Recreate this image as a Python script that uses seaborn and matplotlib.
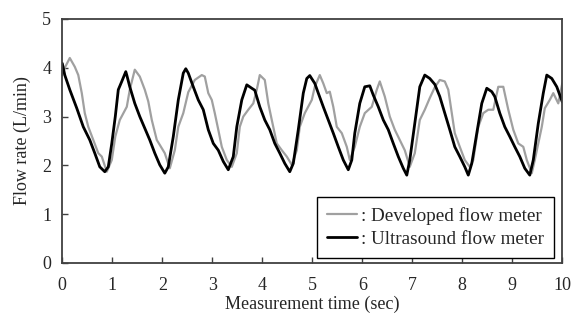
import matplotlib
matplotlib.use("Agg")
import matplotlib.pyplot as plt
import pandas as pd
import seaborn as sns

# values (time in sec, flow in L/min)
ultra_time = [
    0.0, 0.05, 0.15, 0.29, 0.42, 0.55, 0.65, 0.75, 0.85, 0.92, 0.99, 1.06,
    1.12, 1.19, 1.27, 1.29, 1.35, 1.45, 1.55, 1.65, 1.75, 1.85, 1.95, 2.05,
    2.12, 2.22, 2.32, 2.42, 2.47, 2.52, 2.62, 2.72, 2.82, 2.92, 3.02, 3.12,
    3.22, 3.32, 3.42, 3.49, 3.59, 3.69, 3.79, 3.85, 3.95, 4.05, 4.15, 4.25,
    4.35, 4.45, 4.55, 4.62, 4.72, 4.82, 4.89, 4.95, 5.05, 5.12, 5.22, 5.32,
    5.42, 5.52, 5.62, 5.72, 5.79, 5.85, 5.95, 6.05, 6.15, 6.22, 6.32, 6.42,
    6.52, 6.62, 6.72, 6.82, 6.89, 6.95, 7.05, 7.15, 7.25, 7.35, 7.45, 7.55,
    7.65, 7.75, 7.85, 7.95, 8.05, 8.12, 8.19, 8.29, 8.39, 8.49, 8.59, 8.65,
    8.75, 8.85, 8.95, 9.05, 9.15, 9.25, 9.35, 9.42, 9.52, 9.62, 9.69, 9.79,
    9.89, 10.0,
]
ultra_flow = [
    4.09, 3.85, 3.55, 3.17, 2.79, 2.52, 2.25, 1.97, 1.87, 1.97, 2.45, 3.00,
    3.55, 3.72, 3.92, 3.85, 3.61, 3.27, 3.00, 2.76, 2.52, 2.25, 2.01, 1.84,
    1.97, 2.59, 3.34, 3.89, 3.98, 3.89, 3.61, 3.34, 3.14, 2.73, 2.45, 2.31,
    2.08, 1.91, 2.18, 2.79, 3.34, 3.65, 3.58, 3.54, 3.20, 2.93, 2.73, 2.45,
    2.25, 2.04, 1.87, 2.04, 2.73, 3.48, 3.78, 3.84, 3.68, 3.48, 3.20, 2.93,
    2.66, 2.38, 2.11, 1.91, 2.11, 2.66, 3.27, 3.61, 3.63, 3.44, 3.20, 2.93,
    2.73, 2.45, 2.18, 1.94, 1.80, 2.11, 2.86, 3.61, 3.85, 3.78, 3.66, 3.41,
    3.07, 2.73, 2.38, 2.18, 1.97, 1.80, 2.04, 2.66, 3.27, 3.58, 3.51, 3.41,
    3.07, 2.79, 2.59, 2.38, 2.18, 1.94, 1.80, 2.11, 2.86, 3.48, 3.85, 3.78,
    3.61, 3.30,
]

dev_time = [
    0.0, 0.05, 0.15, 0.25, 0.32, 0.39, 0.45, 0.52, 0.62, 0.72, 0.79, 0.89,
    0.99, 1.06, 1.15, 1.29, 1.35, 1.45, 1.55, 1.65, 1.72, 1.79, 1.89, 1.95,
    2.05, 2.15, 2.25, 2.32, 2.42, 2.52, 2.65, 2.79, 2.85, 2.92, 2.99, 3.05,
    3.12, 3.19, 3.29, 3.39, 3.49, 3.55, 3.62, 3.72, 3.82, 3.89, 3.95, 4.05,
    4.12, 4.19, 4.29, 4.39, 4.49, 4.59, 4.69, 4.75, 4.85, 4.99, 5.05, 5.15,
    5.22, 5.29, 5.35, 5.42, 5.49, 5.59, 5.69, 5.75, 5.85, 5.95, 6.05, 6.19,
    6.29, 6.35, 6.45, 6.55, 6.65, 6.75, 6.85, 6.95, 7.05, 7.15, 7.25, 7.35,
    7.45, 7.55, 7.65, 7.72, 7.79, 7.85, 7.95, 8.05, 8.15, 8.22, 8.32, 8.42,
    8.52, 8.62, 8.72, 8.82, 8.92, 9.02, 9.12, 9.22, 9.29, 9.39, 9.45, 9.59,
    9.65, 9.75, 9.82, 9.92, 10.0,
]
dev_flow = [
    3.85, 4.00, 4.20, 4.02, 3.85, 3.48, 3.07, 2.79, 2.52, 2.25, 2.18, 1.87,
    2.11, 2.59, 2.93, 3.20, 3.55, 3.96, 3.82, 3.55, 3.31, 2.93, 2.52, 2.42,
    2.25, 1.94, 2.31, 2.79, 3.07, 3.50, 3.75, 3.85, 3.82, 3.48, 3.34, 3.07,
    2.73, 2.38, 2.11, 1.97, 2.25, 2.79, 3.00, 3.14, 3.27, 3.55, 3.85, 3.75,
    3.27, 2.93, 2.45, 2.31, 2.18, 2.01, 2.31, 2.79, 3.07, 3.34, 3.61, 3.85,
    3.68, 3.48, 3.51, 3.20, 2.79, 2.66, 2.38, 2.11, 2.38, 2.79, 3.07, 3.20,
    3.55, 3.72, 3.41, 3.00, 2.73, 2.52, 2.31, 1.97, 2.25, 2.93, 3.14, 3.38,
    3.60, 3.75, 3.72, 3.55, 3.07, 2.66, 2.38, 2.11, 1.97, 2.11, 2.79, 3.07,
    3.14, 3.14, 3.61, 3.61, 3.14, 2.73, 2.45, 2.38, 2.11, 1.84, 2.11, 2.79,
    3.17, 3.34, 3.48, 3.27, 3.68,
]

dev_label = ": Developed flow meter"
ultra_label = ": Ultrasound flow meter"

df = pd.concat([
    pd.DataFrame({"time": dev_time, "flow": dev_flow, "meter": dev_label}),
    pd.DataFrame({"time": ultra_time, "flow": ultra_flow, "meter": ultra_label}),
])

sns.set_style("ticks")
plt.rcParams["font.family"] = ["Liberation Serif", "DejaVu Serif"]
plt.rcParams["font.size"] = 13

fig = plt.figure(figsize=(5.73, 3.21), dpi=100)
ax = fig.add_axes([0.1087, 0.1807, 0.8726, 0.7603])

sns.lineplot(data=df[df["meter"] == dev_label], x="time", y="flow",
             color="#a0a0a0", linewidth=1.6, label=dev_label, ax=ax)
sns.lineplot(data=df[df["meter"] == ultra_label], x="time", y="flow",
             color="black", linewidth=2.0, label=ultra_label, ax=ax)

ax.set_xlim(0, 10)
ax.set_ylim(0, 5)
ax.set_xticks(range(0, 11))
ax.set_yticks(range(0, 6))
ax.set_xlabel("Measurement time (sec)", fontsize=13, labelpad=1)
ax.set_ylabel("Flow rate (L/min)", fontsize=13, labelpad=8)
ax.tick_params(direction="in", length=4, width=1, color="#404040",
               labelsize=13, top=False, right=False)
ax.tick_params(axis="y", pad=8)
ax.tick_params(axis="x", pad=10)
for spine in ax.spines.values():
    spine.set_visible(True)
    spine.set_color("#404040")
    spine.set_linewidth(1.3)

leg = ax.legend(loc="lower right", bbox_to_anchor=(0.983, 0.022),
                borderaxespad=0, fancybox=False, framealpha=1,
                edgecolor="black", handlelength=1.6, handletextpad=0.2,
                borderpad=0.5, labelspacing=0.3, fontsize=13.8)
leg.get_frame().set_linewidth(1.0)

fig.savefig("out.png", dpi=100)
